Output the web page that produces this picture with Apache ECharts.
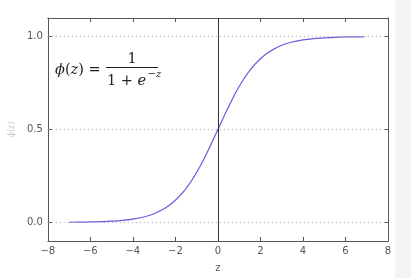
<!DOCTYPE html>
<html><head><meta charset="utf-8">
<script src="https://cdn.jsdelivr.net/npm/echarts@6/dist/echarts.min.js"></script>
<style>html,body{margin:0;padding:0;background:#fff}#c{width:411px;height:278px}</style>
</head><body><div id="c"></div>
<script>
const zValues = [-7,-6.5,-6,-5.5,-5,-4.5,-4,-3.5,-3,-2.5,-2,-1.5,-1,-0.5,0,0.5,1,1.5,2,2.5,3,3.5,4,4.5,5,5.5,6,6.5,6.9];
const phiValues = [0.0009,0.0015,0.0025,0.0041,0.0067,0.011,0.018,0.029,0.047,0.076,0.119,0.182,0.269,0.378,0.5,0.622,0.731,0.818,0.881,0.924,0.953,0.971,0.982,0.989,0.993,0.996,0.998,0.998,0.999];
const xTicks = [-8,-6,-4,-2,0,2,4,6,8];
const yTicks = [0, 0.5, 1.0];
const gridLevels = [0, 0.5, 1.0];

const chart = echarts.init(document.getElementById('c'), null, {renderer:'canvas'});
const fmtX = v => String(v).replace('-', '\u2212');
const fmtY = v => v.toFixed(1);
const axCol = '#555';
const lbl = {color:'#555', fontSize:10, fontFamily:'DejaVu Sans'};
const ink = '#222';
const serifRich = (sz) => ({
  i:{fontFamily:'DejaVu Serif', fontStyle:'italic', fontSize:sz, fill:ink},
  n:{fontFamily:'DejaVu Serif', fontSize:sz, fill:ink}
});
chart.setOption({
  animation:false,
  grid:{left:39, top:18, right:23, bottom:34},
  graphic:[
    {type:'rect', shape:{x:395, y:0, width:16, height:278}, style:{fill:'#f4f4f4'}, z:-10},
    {type:'text', x:55, y:70, style:{text:'{i|\u03d5}{n|(}{i|z}{n|) =}', verticalAlign:'middle', align:'left', rich:serifRich(14.5)}},
    {type:'text', x:132, y:59, style:{text:'1', fontFamily:'DejaVu Serif', fontSize:14.5, fill:ink, align:'center', verticalAlign:'middle'}},
    {type:'line', shape:{x1:106, y1:67.5, x2:158, y2:67.5}, style:{stroke:ink, lineWidth:1}},
    {type:'text', x:107, y:81, style:{text:'{n|1 + }{i|e}', verticalAlign:'middle', align:'left', rich:serifRich(14.5)}},
    {type:'text', x:147.5, y:74, style:{text:'{n|\u2212}{i|z}', verticalAlign:'middle', align:'left', rich:serifRich(10)}}
  ],
  xAxis:[
    {type:'value', min:-8, max:8, interval:2, position:'bottom',
     name:'z', nameLocation:'middle', nameGap:22, nameTextStyle:{color:'#555', fontSize:10, fontFamily:'DejaVu Sans'},
     axisLine:{show:true, onZero:false, lineStyle:{color:axCol, width:1}},
     axisTick:{show:true, inside:true, length:4, lineStyle:{color:axCol}},
     axisLabel:Object.assign({formatter:fmtX, margin:5, customValues:xTicks}, lbl),
     splitLine:{show:false}},
    {type:'value', min:-8, max:8, interval:2, position:'top',
     axisLine:{show:true, onZero:false, lineStyle:{color:axCol, width:1}},
     axisTick:{show:true, inside:true, length:4, lineStyle:{color:axCol}},
     axisLabel:{show:false}, splitLine:{show:false}}
  ],
  yAxis:[
    {type:'value', min:-0.1, max:1.1, position:'left',
     name:'\u03d5(z)', nameLocation:'middle', nameGap:26, nameRotate:90,
     nameTextStyle:{color:'#c8c8c8', fontSize:8, fontFamily:'DejaVu Sans'},
     axisLine:{show:true, onZero:false, lineStyle:{color:axCol, width:1}},
     axisTick:{show:true, inside:true, length:4, customValues:yTicks, lineStyle:{color:axCol}},
     axisLabel:Object.assign({formatter:fmtY, margin:5, customValues:yTicks}, lbl),
     splitLine:{show:false}},
    {type:'value', min:-0.1, max:1.1, position:'right',
     axisLine:{show:true, onZero:false, lineStyle:{color:axCol, width:1}},
     axisTick:{show:true, inside:true, length:4, customValues:yTicks, lineStyle:{color:axCol}},
     axisLabel:{show:false}, splitLine:{show:false}}
  ],
  series:[
    {type:'line', xAxisIndex:0, yAxisIndex:0, data:zValues.map((z,i)=>[z, phiValues[i]]),
     showSymbol:false, smooth:true, lineStyle:{color:'#6a5ae0', width:1.2}, z:3,
     markLine:{silent:true, symbol:['none','none'], label:{show:false},
       data:gridLevels.map(v=>({yAxis:v, lineStyle:{type:[1,3], color:'#aaa', width:1}}))
         .concat([{xAxis:0, lineStyle:{type:'solid', color:'#333', width:1}}])}}
  ]
});
</script></body></html>
